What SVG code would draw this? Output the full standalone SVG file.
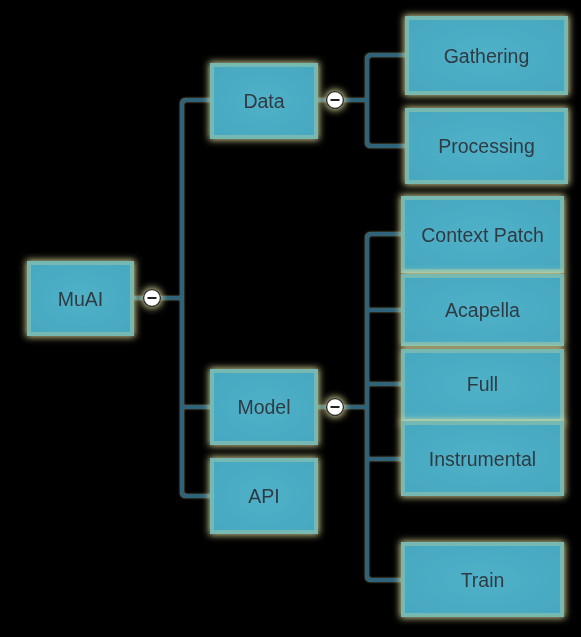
<svg xmlns="http://www.w3.org/2000/svg" width="581" height="637" viewBox="0 0 581 637">
<defs>
<filter id="glow" x="-25%" y="-25%" width="150%" height="150%">
<feMorphology in="SourceAlpha" operator="dilate" radius="1" result="d"/>
<feGaussianBlur in="d" stdDeviation="3.5" result="b"/>
<feFlood flood-color="#e8e4a2" flood-opacity="0.9"/>
<feComposite in2="b" operator="in" result="g"/>
<feMerge><feMergeNode in="g"/><feMergeNode in="SourceGraphic"/></feMerge>
</filter>
<filter id="lglow" x="-10%" y="-10%" width="120%" height="120%">
<feGaussianBlur in="SourceAlpha" stdDeviation="1.2" result="b"/>
<feFlood flood-color="#d8d49a" flood-opacity="0.6"/>
<feComposite in2="b" operator="in" result="g"/>
<feMerge><feMergeNode in="g"/><feMergeNode in="SourceGraphic"/></feMerge>
</filter>
<radialGradient id="fill" cx="50%" cy="50%" r="60%">
<stop offset="0" stop-color="#50b1c8"/>
<stop offset="1" stop-color="#47a9c1"/>
</radialGradient>
</defs>
<style>
.box{fill:url(#fill);stroke:#74b9b2;stroke-width:4;}
.lbl{font-family:"Liberation Sans",Arial,sans-serif;font-size:19.5px;fill:#2f3a42;text-anchor:middle;dominant-baseline:central;}
.con{fill:none;stroke:#2e6479;stroke-width:4;stroke-linejoin:round;}
.tog circle{fill:#ffffff;stroke:#333;stroke-width:1.5;}
.tog line{stroke:#222;stroke-width:2;}
</style>
<rect width="581" height="637" fill="#000"/>
<g id="connectors" filter="url(#lglow)">
<path class="con" d="M133 298 H182 M211 100 H186 Q182 100 182 104 V492 Q182 496 186 496 H211 M182 407 H211"/>
<path class="con" d="M317 100 H367 M406 55 H371 Q367 55 367 59 V142 Q367 146 371 146 H406"/>
<path class="con" d="M317 407 H367 M402 234 H371 Q367 234 367 238 V576 Q367 580 371 580 H402 M367 310 H402 M367 384 H402 M367 459 H402"/>
</g>
<g id="node-muai" filter="url(#glow)"><rect class="box" x="29" y="263" width="103" height="71"/><text class="lbl" x="80.5" y="298.5">MuAI</text></g>
<g id="node-data" filter="url(#glow)"><rect class="box" x="212" y="65" width="104" height="72"/><text class="lbl" x="264" y="101">Data</text></g>
<g id="node-model" filter="url(#glow)"><rect class="box" x="212" y="371" width="104" height="72"/><text class="lbl" x="264" y="407">Model</text></g>
<g id="node-api" filter="url(#glow)"><rect class="box" x="212" y="460" width="104" height="72"/><text class="lbl" x="264" y="496">API</text></g>
<g id="node-gathering" filter="url(#glow)"><rect class="box" x="407" y="18" width="159" height="75"/><text class="lbl" x="486.5" y="55.5">Gathering</text></g>
<g id="node-processing" filter="url(#glow)"><rect class="box" x="407" y="110" width="159" height="72"/><text class="lbl" x="486.5" y="146">Processing</text></g>
<g id="node-context" filter="url(#glow)"><rect class="box" x="403" y="198" width="159" height="73"/><text class="lbl" x="482.5" y="234.5">Context Patch</text></g>
<g id="node-acapella" filter="url(#glow)"><rect class="box" x="403" y="276" width="159" height="68"/><text class="lbl" x="482.5" y="310">Acapella</text></g>
<g id="node-full" filter="url(#glow)"><rect class="box" x="403" y="351" width="159" height="70"/><text class="lbl" x="482.5" y="384">Full</text></g>
<g id="node-instrumental" filter="url(#glow)"><rect class="box" x="403" y="423" width="159" height="71"/><text class="lbl" x="482.5" y="459">Instrumental</text></g>
<g id="node-train" filter="url(#glow)"><rect class="box" x="403" y="544" width="159" height="71"/><text class="lbl" x="482.5" y="580">Train</text></g>
<g id="toggles" filter="url(#glow)">
<g class="tog"><circle cx="152" cy="298" r="8.5"/><line x1="147.5" y1="298" x2="156.5" y2="298"/></g>
<g class="tog"><circle cx="335" cy="100" r="8.5"/><line x1="330.5" y1="100" x2="339.5" y2="100"/></g>
<g class="tog"><circle cx="335" cy="407" r="8.5"/><line x1="330.5" y1="407" x2="339.5" y2="407"/></g>
</g>
</svg>
